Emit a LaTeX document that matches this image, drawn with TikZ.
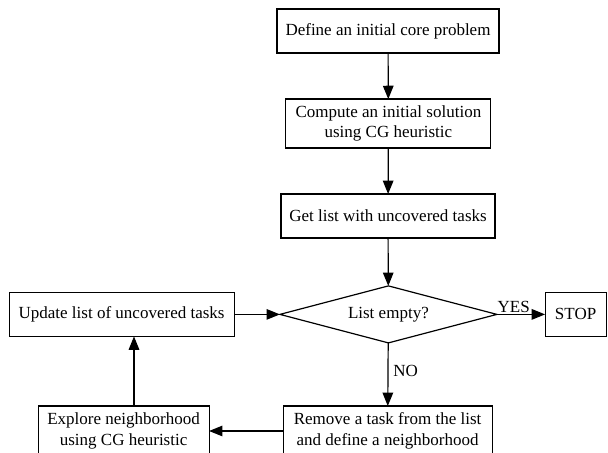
\documentclass[tikz,border=0pt]{standalone}
\usepackage{fontspec}
\setmainfont{Liberation Serif}
\usetikzlibrary{arrows.meta,shapes.geometric}
\tikzset{
  paso/.style={draw, line width=0.85pt, align=center, inner sep=2pt, outer sep=0pt,
    font=\fontsize{12.1}{14.5}\selectfont},
  decision/.style={draw, diamond, line width=0.85pt, inner sep=0pt, outer sep=0pt,
    minimum width=5.425cm, minimum height=1.425cm, aspect=3.8,
    font=\fontsize{12.1}{14.5}\selectfont},
  flecha/.style={-{Triangle[length=9.5pt,width=7.5pt]}, line width=0.85pt}
}
\begin{document}
\begin{tikzpicture}
    \useasboundingbox (0,0) rectangle (15.2,-11.325);

    % Columna central
    \node[paso, minimum width=5.55cm, minimum height=1.1cm] (inicio) at (9.7,-0.775) {Define an initial core problem};
    \node[paso, minimum width=5.125cm, minimum height=1.225cm] (solucion) at (9.71,-3.09) {Compute an initial solution\\using CG heuristic};
    \node[paso, minimum width=5.35cm, minimum height=1.1cm] (lista) at (9.7,-5.4) {Get list with uncovered tasks};
    \node[decision] (vacia) at (9.71,-7.86) {List empty?};

    % Fila de la decision
    \node[paso, minimum width=5.625cm, minimum height=1.1cm] (actualizar) at (3.04,-7.86) {Update list of uncovered tasks};
    \node[paso, minimum width=1.525cm, minimum height=1.1cm] (stop) at (14.39,-7.86) {STOP};

    % Fila inferior
    \node[paso, minimum width=5.225cm, minimum height=1.25cm] (quitar) at (9.69,-10.775) {Remove a task from the list\\and define a neighborhood};
    \node[paso, minimum width=4.275cm, minimum height=1.25cm] (explorar) at (3.09,-10.775) {Explore neighborhood\\using CG heuristic};

    % Conexiones
    \draw[flecha] (inicio) -- (solucion);
    \draw[flecha] (solucion) -- (lista);
    \draw[flecha] (lista) -- (vacia);
    \draw[flecha] (vacia) -- node[above, pos=0.35, inner sep=1pt, font=\fontsize{12.1}{14.5}\selectfont] {YES} (stop);
    \draw[flecha] (vacia) -- node[right, pos=0.45, font=\fontsize{12.1}{14.5}\selectfont] {NO} (quitar);
    \draw[flecha] (quitar) -- (explorar);
    \draw[flecha] ([xshift=0.26cm]explorar.north) -- ([xshift=0.26cm]explorar.north |- actualizar.south);
    \draw[flecha] (actualizar) -- (vacia);
\end{tikzpicture}
\end{document}
